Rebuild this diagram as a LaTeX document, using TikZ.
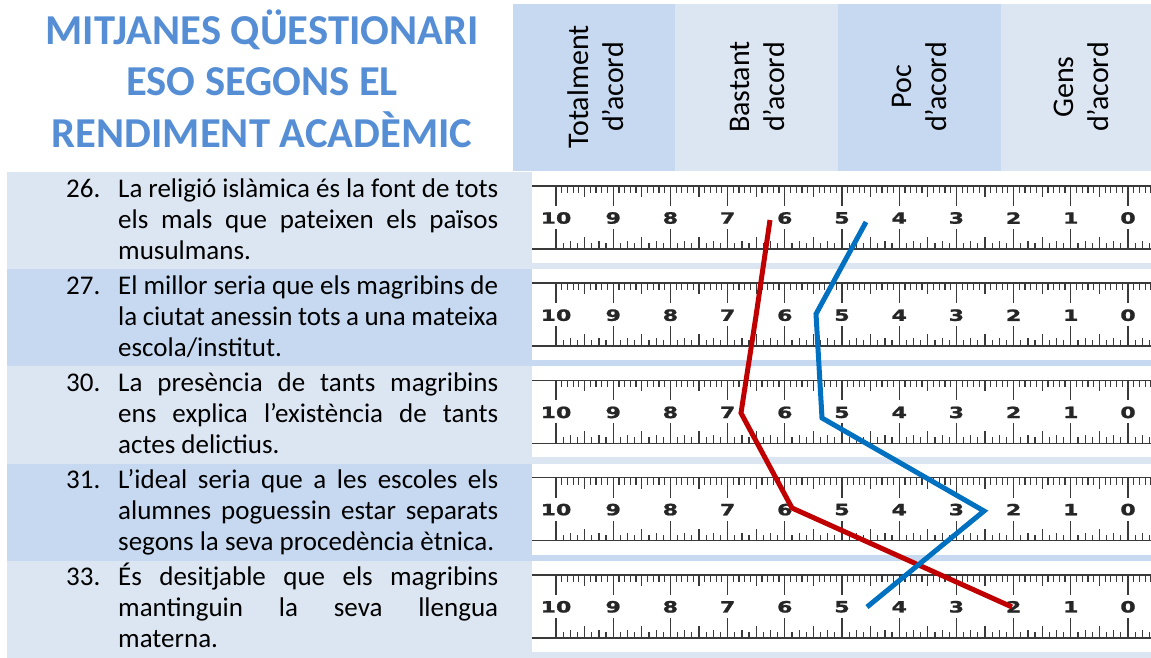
\documentclass[tikz,border=0pt]{standalone}
\usepackage{fontspec}
\setmainfont{Carlito}
\newfontfamily\numfont[BoldFont={DejaVu Sans Bold}, BoldFeatures={FakeBold=1.2}]{DejaVu Sans}
\usepackage{graphicx}
\definecolor{rowA}{HTML}{DCE6F2}
\definecolor{rowB}{HTML}{C6D9F1}
\definecolor{titleblue}{HTML}{558ED5}
\definecolor{dred}{HTML}{C00000}
\definecolor{dblue}{HTML}{0070C0}
\definecolor{rulergray}{HTML}{3A3A3A}
\tikzset{
  titletxt/.style={inner sep=0, anchor=base, text=titleblue, font=\fontsize{42.6pt}{51pt}\selectfont\bfseries},
  headtxt/.style={inner sep=0, rotate=90, align=center, font=\fontsize{30pt}{35pt}\selectfont},
  numtxt/.style={inner sep=0, anchor=base west, font=\fontsize{27pt}{31pt}\selectfont},
  rowtxt/.style={inner sep=0, anchor=base west, font=\fontsize{27pt}{31pt}\selectfont},
  rulerline/.style={draw=rulergray, line width=1.5pt},
  tickline/.style={draw=rulergray, line width=1.2pt},
  numlbl/.style={inner sep=0, text=black!85, font={\fontsize{15.5pt}{15.5pt}\numfont\bfseries}},
  redline/.style={draw=dred, line width=5pt, line join=miter},
  blueline/.style={draw=dblue, line width=5pt, line join=miter},
}
\newcommand{\qtext}[1]{\parbox[t]{380pt}{\tolerance=10000\hyphenpenalty=10000 #1}}
\begin{document}
\begin{tikzpicture}[x=1pt,y=-1pt]
\useasboundingbox (0,0) rectangle (1151,658);
\fill[white] (0,0) rectangle (1151,658);

% header columns
\fill[rowB] (513,4) rectangle (675,171);
\fill[rowA] (675,4) rectangle (838,171);
\fill[rowB] (838,4) rectangle (1001,171);
\fill[rowA] (1001,4) rectangle (1151,171);
\node[headtxt] (h1) at (596,87) {Totalment\\d’acord};
\node[headtxt] (h2) at (757,87) {Bastant\\d’acord};
\node[headtxt] (h3) at (919,87) {Poc\\d’acord};
\node[headtxt] (h4) at (1081,87) {Gens\\d’acord};

% title
\node[titletxt] (title1) at (262,45) {MITJANES QÜESTIONARI};
\node[titletxt] (title2) at (262,96) {ESO SEGONS EL};
\node[titletxt] (title3) at (262,147) {RENDIMENT ACADÈMIC};

% row bands
\fill[rowA] (7,172) rectangle (1151,269.2);
\fill[rowB] (7,269.2) rectangle (1151,366.4);
\fill[rowA] (7,366.4) rectangle (1151,463.6);
\fill[rowB] (7,463.6) rectangle (1151,560.8);
\fill[rowA] (7,560.8) rectangle (1151,658);

% rulers
\foreach \rt [count=\r] in {172,269.2,366.4,463.6,560.8} {
  \fill[white] (532,\rt) rectangle (1151,\rt+91);
  \draw[rulerline] (532,\rt+14) -- (1151,\rt+14);
  \draw[rulerline] (532,\rt+77) -- (1151,\rt+77);
  \foreach \k [evaluate=\k as \tl using {(mod(\k,10)==0) ? 20 : ((mod(\k,5)==0) ? 11 : 7)}] in {0,...,104}
    \draw[tickline] (556+\k*5.72,\rt+14) -- ++(0,\tl);
  \foreach \k [evaluate=\k as \tl using {(mod(\k,8)==0) ? 20 : ((mod(\k,4)==0) ? 12 : ((mod(\k,2)==0) ? 8 : 6))}] in {0,...,83}
    \draw[tickline] (556+\k*7.15,\rt+77) -- ++(0,-\tl);
  \foreach \n in {0,...,10}
    \node[numlbl] (num\r-\n) at (556+10*57.2-\n*57.2,\rt+46) {\scalebox{1.42}[1]{\n}};
}

% question texts
\node[numtxt] (n26) at (66,197) {26.};
\node[rowtxt] (t26) at (118,197) {\qtext{La religió islàmica és la font de tots\linebreak els mals que pateixen els països\linebreak musulmans.}};
\node[numtxt] (n27) at (66,294.2) {27.};
\node[rowtxt] (t27) at (118,294.2) {\qtext{El millor seria que els magribins de\linebreak la ciutat anessin tots a una mateixa\linebreak escola/institut.}};
\node[numtxt] (n30) at (66,391.4) {30.};
\node[rowtxt] (t30) at (118,391.4) {\qtext{La presència de tants magribins\linebreak ens explica l’existència de tants\linebreak actes delictius.}};
\node[numtxt] (n31) at (66,488.6) {31.};
\node[rowtxt] (t31) at (118,488.6) {\qtext{L’ideal seria que a les escoles els\linebreak alumnes poguessin estar separats\linebreak segons la seva procedència ètnica.}};
\node[numtxt] (n33) at (66,585.8) {33.};
\node[rowtxt] (t33) at (118,585.8) {\qtext{És desitjable que els magribins\linebreak mantinguin la seva llengua\linebreak materna.}};

% data lines
\coordinate (r1) at (770,220);
\coordinate (r2) at (756,316);
\coordinate (r3) at (741,413);
\coordinate (r4) at (792,508);
\coordinate (r5) at (1012,607);
\coordinate (b1) at (866,222);
\coordinate (b2) at (816,314);
\coordinate (b3) at (822,418);
\coordinate (b4) at (984,511);
\coordinate (b5) at (867,607);
\draw[redline] (r1) -- (r2) -- (r3) -- (r4) -- (r5);
\draw[blueline] (b1) -- (b2) -- (b3) -- (b4) -- (b5);
\end{tikzpicture}
\end{document}
